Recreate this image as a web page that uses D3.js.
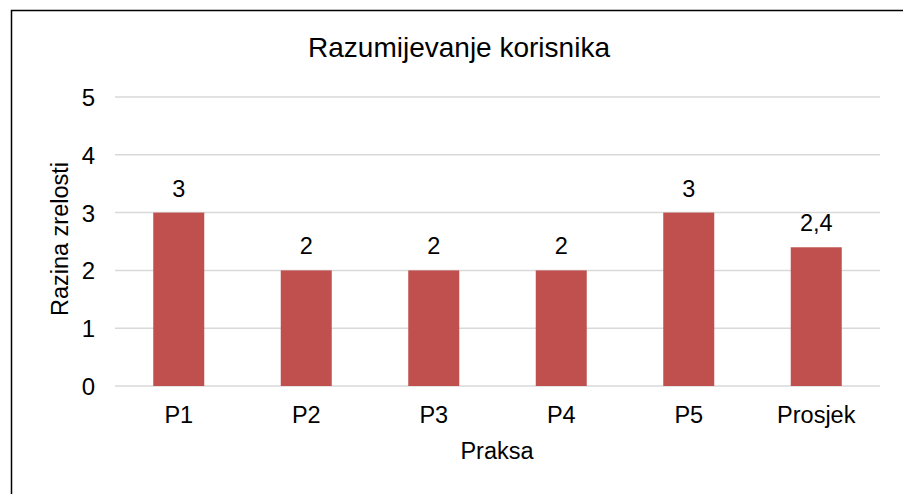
<!DOCTYPE html>
<meta charset="utf-8">
<style>
body {
  margin: 0;
  font-family: "Liberation Sans", Arial, sans-serif;
}
.grid line {
  stroke: #d9d9d9;
  stroke-width: 1.5;
}
text {
  fill: #000;
}
</style>
<body>
<script src="https://cdn.jsdelivr.net/npm/d3@7"></script>
<script>

var width = 903,
    height = 494;

var categories = ["P1", "P2", "P3", "P4", "P5", "Prosjek"];
var values = [3, 2, 2, 2, 3, 2.4];
var yTicks = [0, 1, 2, 3, 4, 5];

var margin = {top: 97, right: 23, bottom: 108, left: 115};

var svg = d3.select("body").append("svg")
    .attr("width", width)
    .attr("height", height);

svg.append("rect")
    .attr("width", width)
    .attr("height", height)
    .attr("fill", "#fff");

// frame (only left/top edges show in the picture)
svg.append("rect")
    .attr("x", 11.5)
    .attr("y", 10.5)
    .attr("width", width + 10)
    .attr("height", height + 10)
    .attr("fill", "none")
    .attr("stroke", "#000")
    .attr("stroke-width", 1.5);

var x = d3.scaleBand()
    .domain(categories)
    .range([margin.left, width - margin.right])
    .paddingInner(0.6)
    .paddingOuter(0.3);

var y = d3.scaleLinear()
    .domain([0, 5])
    .range([height - margin.bottom, margin.top]);

var grid = svg.append("g").attr("class", "grid");
grid.selectAll("line")
    .data(yTicks)
  .enter().append("line")
    .attr("x1", margin.left)
    .attr("x2", width - margin.right)
    .attr("y1", function(d) { return y(d); })
    .attr("y2", function(d) { return y(d); });

svg.selectAll(".ytick")
    .data(yTicks)
  .enter().append("text")
    .attr("class", "ytick")
    .attr("x", 95)
    .attr("y", function(d) { return y(d) + 9; })
    .attr("text-anchor", "end")
    .attr("font-size", 24)
    .text(function(d) { return d; });

svg.selectAll(".bar")
    .data(values)
  .enter().append("rect")
    .attr("class", "bar")
    .attr("x", function(d, i) { return x(categories[i]); })
    .attr("width", x.bandwidth())
    .attr("y", function(d) { return y(d); })
    .attr("height", function(d) { return y(0) - y(d); })
    .attr("fill", "#c0504d");

svg.selectAll(".val")
    .data(values)
  .enter().append("text")
    .attr("class", "val")
    .attr("x", function(d, i) { return x(categories[i]) + x.bandwidth() / 2; })
    .attr("y", function(d) { return y(d) - 16; })
    .attr("text-anchor", "middle")
    .attr("font-size", 23.5)
    .text(function(d) { return String(d).replace(".", ","); });

svg.selectAll(".xtick")
    .data(categories)
  .enter().append("text")
    .attr("class", "xtick")
    .attr("x", function(d) { return x(d) + x.bandwidth() / 2; })
    .attr("y", 422.5)
    .attr("text-anchor", "middle")
    .attr("font-size", 23.5)
    .text(function(d) { return d; });

svg.append("text")
    .attr("x", 497)
    .attr("y", 458.5)
    .attr("text-anchor", "middle")
    .attr("font-size", 23.5)
    .text("Praksa");

svg.append("text")
    .attr("transform", "translate(68,239) rotate(-90)")
    .attr("text-anchor", "middle")
    .attr("font-size", 23.5)
    .text("Razina zrelosti");

svg.append("text")
    .attr("x", 459)
    .attr("y", 57)
    .attr("text-anchor", "middle")
    .attr("font-size", 28)
    .text("Razumijevanje korisnika");

</script>
